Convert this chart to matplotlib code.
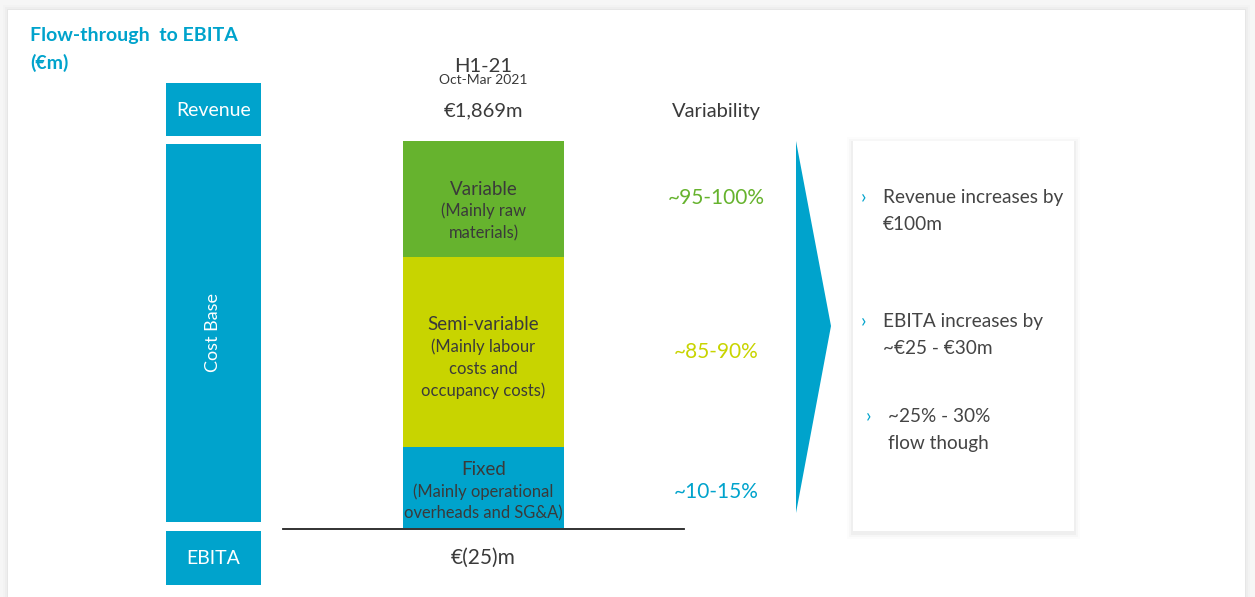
import matplotlib
matplotlib.use("Agg")
import matplotlib.pyplot as plt
from matplotlib.patches import Rectangle, Polygon

plt.rcParams['font.family'] = ['Lato', 'DejaVu Sans']

# ---- data ----
segments = ["Fixed", "Semi-variable", "Variable"]
segment_notes = ["(Mainly operational\noverheads and SG&A)",
                 "(Mainly labour\ncosts and\noccupancy costs)",
                 "(Mainly raw\nmaterials)"]
segment_share = [21, 49, 30]           # share of cost base (%)
variability = ["~10-15%", "~85-90%", "~95-100%"]
period_label = "H1-21"
period_sub = "Oct-Mar 2021"
revenue_label = "€1,869m"
ebita_label = "€(25)m"
left_labels = ["Revenue", "Cost Base", "EBITA"]
bullets = [("Revenue increases by", "€100m"),
           ("EBITA increases by", "~€25 - €30m"),
           ("~25% - 30%", "flow though")]

BLUE = "#00a3cc"
GREEN = "#66b32e"
LIME = "#c8d400"
DARK = "#3a3a3a"
seg_colors = [BLUE, LIME, GREEN]
label_shift = [4, 6, 12]     # pixel offset of in-bar label block (downwards)
var_shift = [5, 0, -1]       # pixel offset of variability labels

W, H = 1255, 597
fig = plt.figure(figsize=(W / 100, H / 100), dpi=100)
fig.patch.set_facecolor("#f6f6f6")

bg = fig.add_axes([0, 0, 1, 1])
bg.set_xlim(0, W)
bg.set_ylim(H, 0)
bg.axis("off")

# white card with faint shadow
for i, a in enumerate([0.012, 0.02, 0.03]):
    d = 5 - 2 * i
    bg.add_patch(Rectangle((8 - d, 10 - d), 1237 + 2 * d, 600, color="#000000", alpha=a, lw=0))
bg.add_patch(Rectangle((8, 10), 1237, 600, color="white", lw=0))

# title
bg.text(30, 36, "Flow-through  to EBITA", color=BLUE, fontsize=14, fontweight="bold", va="center", ha="left")
bg.text(30, 63, "(€m)", color=BLUE, fontsize=14, fontweight="bold", va="center", ha="left")

# left boxes
boxes = [(83, 136), (144, 522), (531, 585)]
for (y0, y1), lab in zip(boxes, left_labels):
    bg.add_patch(Rectangle((166, y0), 95, y1 - y0, color=BLUE, lw=0))
    rot = 90 if lab == "Cost Base" else 0
    bg.text(213.5, (y0 + y1) / 2 + (1 if rot == 0 else 0), lab, color="white",
            fontsize=14 if rot == 0 else 13, ha="center", va="center", rotation=rot)

# column header
bg.text(483, 66, period_label, color=DARK, fontsize=14.5, ha="center", va="center")
bg.text(483, 80, period_sub, color=DARK, fontsize=10, ha="center", va="center")
bg.text(483, 111, revenue_label, color=DARK, fontsize=14.5, ha="center", va="center")
bg.text(716, 111, "Variability", color=DARK, fontsize=14.5, ha="center", va="center")
bg.text(483, 558, ebita_label, color=DARK, fontsize=15, ha="center", va="center")

# baseline
bg.plot([283, 684], [529, 529], color="#222222", lw=1.3)

# arrow
bg.add_patch(Polygon([(796, 141), (831, 326), (796, 513)], closed=True, color=BLUE, lw=0))

# right card
for i, a in enumerate([0.012, 0.02, 0.03]):
    d = 6 - 2 * i
    bg.add_patch(Rectangle((853 - d, 141 - d + 2), 221 + 2 * d, 390 + 2 * d, color="#000000", alpha=a, lw=0))
bg.add_patch(Rectangle((853, 141), 221, 390, color="white", lw=0))

bullet_pos = [(864, 883, 197), (864, 883, 321), (869, 888, 416)]
for (bx, tx, ty), (l1, l2) in zip(bullet_pos, bullets):
    bg.text(bx, ty, "›", color=BLUE, fontsize=14, ha="center", va="center")
    bg.text(tx, ty, l1, color="#444444", fontsize=13.7, ha="left", va="center")
    bg.text(tx, ty + 27, l2, color="#444444", fontsize=13.7, ha="left", va="center")

# stacked bar axes (pixel placement: x 403-564, y 141-528)
bx0, bx1, by0, by1 = 403, 564, 141, 528
ax = fig.add_axes([bx0 / W, 1 - by1 / H, (bx1 - bx0) / W, (by1 - by0) / H])
ax.set_xlim(-0.5, 0.5)
ax.set_ylim(0, sum(segment_share))
ax.axis("off")
bottom = 0
for name, note, val, col, var, sh, vsh in zip(segments, segment_notes, segment_share,
                                               seg_colors, variability, label_shift, var_shift):
    ax.bar(0, val, width=1.0, bottom=bottom, color=col, lw=0)
    mid = bottom + val / 2
    ymid_px = H - ax.transData.transform((0, mid))[1]
    lines = [name] + note.split("\n")
    n = len(lines)
    y_first = ymid_px + sh - (n - 1) * 22 / 2
    for k, ln in enumerate(lines):
        ax.text(483.5, y_first + k * 22, ln, color=DARK, fontsize=13.5 if k == 0 else 11.9,
                ha="center", va="center", transform=bg.transData, clip_on=False)
    bg.text(716, ymid_px + vsh, var, color=col, fontsize=15, ha="center", va="center")
    bottom += val

fig.savefig("out.png", dpi=100, facecolor=fig.get_facecolor())
